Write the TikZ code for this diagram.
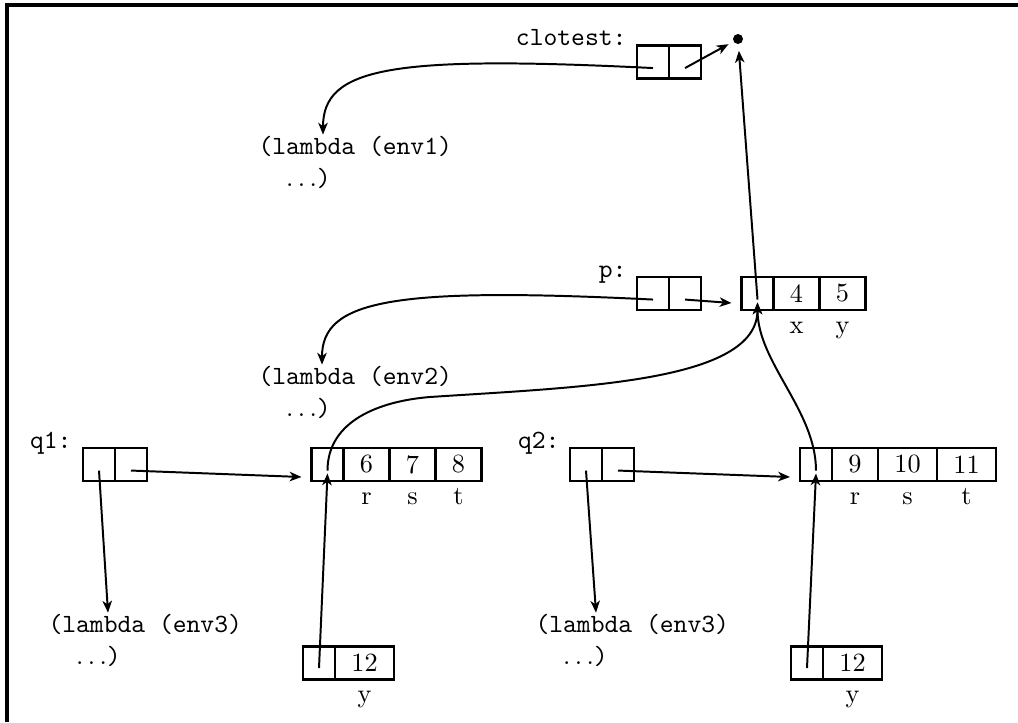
\documentclass[tikz,border=0pt]{standalone}
\usetikzlibrary{arrows.meta,calc}
\begin{document}
\begin{tikzpicture}[x=0.38pt,y=-0.38pt,
  cell/.style={draw, line width=1.1pt, minimum height=12.54pt, inner sep=0pt, outer sep=0pt},
  pc/.style={cell, minimum width=12.16pt},
  vone/.style={cell, minimum width=17.48pt},
  vtwo/.style={cell, minimum width=22.42pt},
  lab/.style={inner sep=0pt, font=\ttfamily, anchor=base east},
  fld/.style={inner sep=0pt, anchor=base},
  code/.style={inner sep=0pt, font=\ttfamily, align=left, anchor=base west},
  arr/.style={line width=0.75pt, -{Stealth[length=4.5pt,width=3.6pt,inset=1.3pt]}},
]
\useasboundingbox (0,0) rectangle (1018,722);
\draw[line width=1.4pt] (1018,5) -- (7,5) -- (7,722);

% clotest
\node[pc] (c1) at (653,62) {};
\node[pc, anchor=west] (c2) at (c1.east) {};
\node[lab] (clab) at (627,45) {clotest:};
\node[circle, fill, inner sep=0pt, minimum size=3.8pt] (dot) at (738,39) {};
\node[code] (l1) at (258,186) {(lambda (env1)\\\hspace*{10.5pt}$\ldots$)};

% p
\node[pc] (p1) at (653,293.5) {};
\node[pc, anchor=west] (p2) at (p1.east) {};
\node[lab] (plab) at (627,277) {p:};
\node[code] (l2) at (258,416) {(lambda (env2)\\\hspace*{10.5pt}$\ldots$)};

% x y frame
\node[pc] (xe) at (757.5,293.5) {};
\node[vone, anchor=west] (x4) at (xe.east) {4};
\node[vone, anchor=west] (x5) at (x4.east) {5};
\node[fld] (xl) at ($(x4.south)+(0,23)$) {x};
\node[fld] (yl) at ($(x5.south)+(0,23)$) {y};

% q1
\node[pc] (qa1) at (99,464.5) {};
\node[pc, anchor=west] (qa2) at (qa1.east) {};
\node[lab] (qalab) at (72,448) {q1:};
\node[code] (l3) at (48,664) {(lambda (env3)\\\hspace*{10.5pt}$\ldots$)};

% r s t frame 1
\node[pc] (ra) at (327.5,464.5) {};
\node[vone, anchor=west] (ra6) at (ra.east) {6};
\node[vone, anchor=west] (ra7) at (ra6.east) {7};
\node[vone, anchor=west] (ra8) at (ra7.east) {8};
\node[fld] (rla) at ($(ra6.south)+(0,23)$) {r};
\node[fld] (sla) at ($(ra7.south)+(0,23)$) {s};
\node[fld] (tla) at ($(ra8.south)+(0,23)$) {t};

% q2
\node[pc] (qb1) at (586,464.5) {};
\node[pc, anchor=west] (qb2) at (qb1.east) {};
\node[lab] (qblab) at (560,448) {q2:};
\node[code] (l4) at (535,664) {(lambda (env3)\\\hspace*{10.5pt}$\ldots$)};

% r s t frame 2
\node[pc] (rb) at (816,464.5) {};
\node[vone, anchor=west] (rb9) at (rb.east) {9};
\node[vtwo, anchor=west] (rb10) at (rb9.east) {10};
\node[vtwo, anchor=west] (rb11) at (rb10.east) {11};
\node[fld] (rlb) at ($(rb9.south)+(0,23)$) {r};
\node[fld] (slb) at ($(rb10.south)+(0,23)$) {s};
\node[fld] (tlb) at ($(rb11.south)+(0,23)$) {t};

% y frames
\node[pc] (ya) at (319,663) {};
\node[vtwo, anchor=west] (ya12) at (ya.east) {12};
\node[fld] (yla) at ($(ya12.south)+(0,23)$) {y};
\node[pc] (yb) at (807,663) {};
\node[vtwo, anchor=west] (yb12) at (yb.east) {12};
\node[fld] (ylb) at ($(yb12.south)+(0,23)$) {y};

% connectors
\draw[arr] ([yshift=-2.3pt]c1.center) .. controls +(-263,-13) and +(0,-67) .. ($(l1.north west)+(65,-1)$);
\draw[arr, shorten >=2pt] ([yshift=-2.3pt]c2.center) -- (dot);
\draw[arr] ([yshift=-2.3pt]p1.center) .. controls +(-263,-13) and +(0,-64) .. ($(l2.north west)+(64,-1)$);
\draw[arr] ([yshift=-2.3pt]p2.center) -- ($(xe.west)+(-10,9.5)$);
\draw[arr, shorten >=2.4pt] ([yshift=-2.3pt]xe.center) -- (dot);

\draw[arr] ([yshift=-2.3pt]ra.center) .. controls +(0,-50) and (380,401) .. (430,397)
  .. controls (580,387) and +(0,80) .. ([yshift=-3.4pt]xe.center);
\draw[arr] ([yshift=-2.3pt]rb.center) .. controls +(0,-60) and +(0,60) .. ([yshift=-3.4pt]xe.center);

\draw[arr] ([yshift=-2.3pt]qa1.center) -- ($(l3.north west)+(60,-1)$);
\draw[arr] ([yshift=-2.3pt]qa2.center) -- ($(ra.west)+(-10,12.5)$);
\draw[arr] ([yshift=-2.3pt]qb1.center) -- ($(l4.north west)+(61,-1)$);
\draw[arr] ([yshift=-2.3pt]qb2.center) -- ($(rb.west)+(-10,12.5)$);

\draw[arr] ([yshift=-1.9pt]ya.center) -- ([yshift=-3.4pt]ra.center);
\draw[arr] ([yshift=-1.9pt]yb.center) -- ([yshift=-3.4pt]rb.center);
\end{tikzpicture}
\end{document}
